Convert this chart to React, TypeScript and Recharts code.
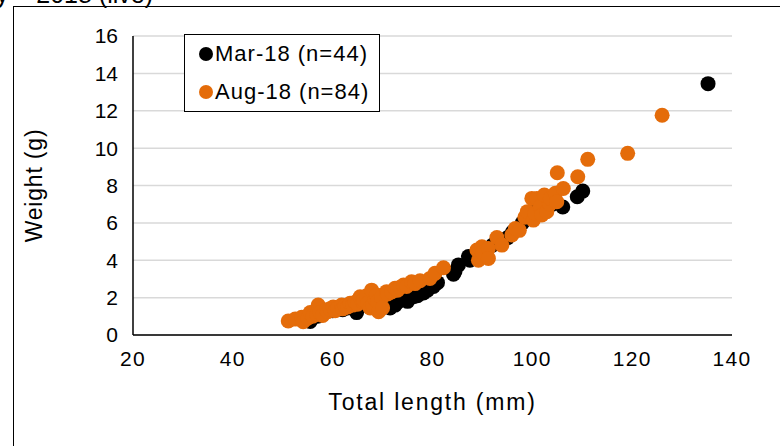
import React from 'react'
import {
  CartesianGrid,
  Label,
  Scatter,
  ScatterChart,
  XAxis,
  YAxis,
} from 'recharts'

// Mar-18 sample (n=44): total length (mm), weight (g)
const marLength = [
  55.5, 57, 58, 60, 62, 63, 64.8, 65, 66, 67, 68, 69, 70, 71.5, 72.5, 73, 74.2,
  75, 76.2, 77, 78.2, 79, 80.2, 81, 84.2, 84.5, 85.2, 87.2, 87.5, 88, 90, 92,
  95, 96, 98, 100, 100.9, 102, 103, 104, 106.1, 109, 110.1, 135.2,
]
const marWeight = [
  0.72, 1.0, 1.1, 1.3, 1.35, 1.45, 1.2, 1.5, 1.6, 1.6, 1.6, 1.7, 1.5, 1.45, 1.6,
  1.75, 1.9, 1.8, 2.05, 2.1, 2.25, 2.4, 2.6, 2.8, 3.25, 3.4, 3.75, 4.2, 4.0, 4.1,
  4.4, 4.8, 5.2, 5.5, 6.0, 6.3, 6.8, 6.5, 6.9, 7.0, 6.85, 7.4, 7.7, 13.45,
]

// Aug-18 sample (n=84)
const augLength = [
  51.1, 52.5, 53.8, 54.1, 55, 55.5, 56, 56.8, 57.1, 57.5, 58, 58.8, 59, 59.5,
  60.1, 60.5, 61, 61.8, 62, 62.5, 63, 63.5, 64, 64.5, 65, 65.5, 66, 66.2, 66.8,
  67, 67.5, 67.8, 68, 68.5, 68.8, 69, 69.2, 69.8, 70, 70.8, 71, 71.8, 72.5, 73,
  73.5, 74.2, 74.8, 75.8, 76.5, 77.5, 79.5, 80.5, 82.2, 88.9, 89.2, 89.9, 90,
  91.2, 91.2, 92.9, 93.9, 95.9, 96.6, 97.4, 98.5, 99, 99.9, 100.2, 100.5, 100.9,
  101.6, 101.9, 102.4, 102.9, 103.5, 103.6, 104.6, 104.9, 105, 106.2, 109.1,
  111.1, 119.1, 126,
]
const augWeight = [
  0.75, 0.85, 0.95, 0.71, 0.9, 1.2, 1.0, 1.1, 1.6, 1.2, 1.05, 1.35, 1.25, 1.4,
  1.5, 1.3, 1.45, 1.6, 1.4, 1.55, 1.5, 1.7, 1.6, 1.75, 1.65, 2.05, 1.8, 1.87,
  2.1, 1.7, 1.45, 2.4, 1.6, 1.9, 2.14, 1.8, 1.25, 2.0, 1.45, 2.32, 2.2, 2.3, 2.5,
  2.4, 2.55, 2.67, 2.6, 2.85, 2.75, 2.9, 3.03, 3.3, 3.6, 4.55, 4.0, 4.72, 4.4,
  4.63, 4.1, 5.22, 4.81, 5.35, 5.7, 5.6, 6.3, 6.6, 7.31, 6.15, 6.5, 7.31, 6.86,
  6.42, 7.49, 6.6, 7.0, 7.31, 7.58, 7.13, 8.68, 7.84, 8.47, 9.4, 9.72, 11.76,
]

const xTicks = [20, 40, 60, 80, 100, 120, 140]
const yTicks = [0, 2, 4, 6, 8, 10, 12, 14, 16]

const marData = marLength.map((x, i) => ({ x, y: marWeight[i] }))
const augData = augLength.map((x, i) => ({ x, y: augWeight[i] }))

const FONT = '"Liberation Sans", Arial, sans-serif'
const ORANGE = '#E46C0A'

const series = [
  { name: 'Mar-18 (n=44)', color: '#000', data: marData },
  { name: 'Aug-18 (n=84)', color: ORANGE, data: augData },
]

const dot = (color: string) => (props: any) => (
  <circle cx={props.cx} cy={props.cy} r={7.5} fill={color} />
)

// Excel-style boxed legend sitting inside the plot area
const LegendBox = () => (
  <div
    style={{
      position: 'absolute',
      left: 184,
      top: 34,
      width: 194,
      height: 76,
      border: '1px solid #000',
      background: '#fff',
      fontFamily: FONT,
      fontSize: 22,
      letterSpacing: 1,
      color: '#000',
    }}
  >
    {series.map((d, i) => (
      <div
        key={d.name}
        style={{
          display: 'flex',
          alignItems: 'center',
          height: 25,
          marginTop: i === 0 ? 6 : 13,
          marginLeft: 14,
        }}
      >
        <span
          style={{
            width: 14,
            height: 14,
            borderRadius: 7,
            background: d.color,
            marginRight: 2,
          }}
        />
        <span>{d.name}</span>
      </div>
    ))}
  </div>
)

export default function App() {
  return (
    <div
      style={{
        position: 'absolute',
        left: 0,
        top: 0,
        width: 780,
        height: 446,
        overflow: 'hidden',
        background: '#fff',
      }}
    >
      <svg
        width={780}
        height={20}
        style={{ position: 'absolute', left: 0, top: 0 }}
      >
        <text
          x={153}
          y={3}
          textAnchor="end"
          fontFamily={FONT}
          fontSize={25}
          fill="#000"
        >
          y – 2018 (live)
        </text>
      </svg>
      <div
        style={{
          position: 'absolute',
          left: 13,
          top: 6,
          width: 900,
          height: 600,
          border: '1.5px solid #000',
        }}
      />
      <div style={{ position: 'absolute', left: 0, top: 0 }}>
        <ScatterChart
          width={780}
          height={446}
          margin={{ top: 36, right: 48, bottom: 0, left: 0 }}
        >
          <CartesianGrid
            horizontal
            vertical={false}
            stroke="#d9d9d9"
            strokeWidth={1.5}
          />
          <XAxis
            type="number"
            dataKey="x"
            domain={[20, 140]}
            ticks={xTicks}
            height={111}
            tickLine={false}
            tickSize={0}
            tickMargin={16}
            axisLine={{ stroke: '#000', strokeWidth: 1.5 }}
            tick={{
              fill: '#000',
              fontSize: 21,
              fontFamily: FONT,
              letterSpacing: 1.3,
            }}
          >
            <Label
              value="Total length (mm)"
              position="insideBottom"
              offset={36}
              style={{
                fill: '#000',
                fontSize: 23,
                fontFamily: FONT,
                letterSpacing: 1.8,
              }}
            />
          </XAxis>
          <YAxis
            type="number"
            dataKey="y"
            domain={[0, 16]}
            ticks={yTicks}
            width={133}
            tickLine={false}
            tickSize={0}
            tickMargin={15}
            axisLine={{ stroke: '#000', strokeWidth: 1.5 }}
            tick={{ fill: '#000', fontSize: 21, fontFamily: FONT }}
          >
            <Label
              value="Weight (g)"
              angle={-90}
              position="insideLeft"
              offset={34}
              style={{
                textAnchor: 'middle',
                fill: '#000',
                fontSize: 23,
                fontFamily: FONT,
                letterSpacing: 0.8,
              }}
            />
          </YAxis>
          {series.map((s) => (
            <Scatter
              key={s.name}
              name={s.name}
              data={s.data}
              fill={s.color}
              shape={dot(s.color)}
              isAnimationActive={false}
            />
          ))}
        </ScatterChart>
      </div>
      <LegendBox />
    </div>
  )
}
